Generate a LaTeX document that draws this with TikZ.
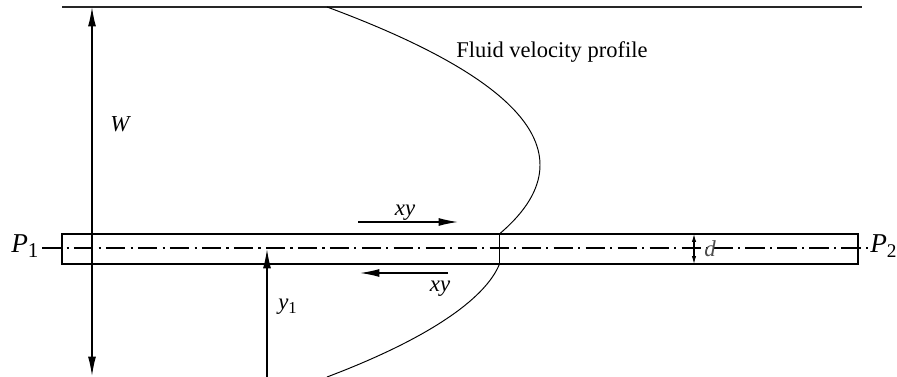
\documentclass[tikz,border=0pt]{standalone}
\usepackage{fontspec}
\setmainfont{Liberation Serif}
\usetikzlibrary{arrows.meta}
\begin{document}
\begin{tikzpicture}[x=0.02cm,y=-0.02cm,
  wall/.style={line width=1.1pt,draw=black!85},
  rodline/.style={line width=0.8pt},
  profile/.style={line width=0.55pt},
  dim/.style={line width=0.7pt},
  tip/.tip={Latex[length=11pt,width=4.5pt]},
  arrowtip/.style={-tip},
  smalltip/.style={{Latex[length=4.5pt,width=2.5pt]}-{Latex[length=4.5pt,width=2.5pt]}},
  centerline/.style={line width=0.6pt,dash pattern=on 11pt off 3pt on 1.2pt off 3pt},
  lbl/.style={inner sep=0pt,font=\fontsize{13}{15}\selectfont\itshape},
  biglbl/.style={inner sep=0pt,font=\fontsize{15.5}{18}\selectfont\itshape},
  txt/.style={inner sep=0pt,font=\fontsize{12.8}{15}\selectfont}]
\useasboundingbox (0,0) rectangle (897,377);
% wall
\coordinate (wallL) at (62,7);
\coordinate (wallR) at (862,7);
\draw[wall] (wallL) -- (wallR);
% rod
\coordinate (rodNW) at (62,234);
\coordinate (rodSE) at (858,264);
\draw[rodline] (rodNW) rectangle (rodSE);
% centerline
\coordinate (clL) at (42,248);
\coordinate (clR) at (868,248);
\draw[centerline] (clL) -- (clR);
% velocity profile
\coordinate (profTop) at (327,7);
\coordinate (profA) at (499.5,234);
\coordinate (profB) at (499.5,264);
\coordinate (profBot) at (327,377);
\draw[profile] plot[domain=-1.58:0.69,samples=80,smooth] ({540-85.3*(\x)^2},{165+100*\x});
\draw[profile] (profA) -- (profB);
\draw[profile] (profB) .. controls (485,300) and (425,340) .. (profBot);
% W dimension
\coordinate (wTop) at (92,7);
\coordinate (wBot) at (92,376);
\draw[dim,tip-tip] (wTop) -- (wBot);
\node[lbl,anchor=base west] (W) at (110,132) {W};
% y1 dimension
\coordinate (y1Bot) at (267,377);
\coordinate (y1Top) at (267,249);
\draw[dim,arrowtip] (y1Bot) -- (y1Top);
\node[lbl,anchor=base west] (y1) at (278,310) {y\raisebox{-0.35ex}{\upshape\fontsize{9.5}{10}\selectfont 1}};
% xy arrows
\coordinate (xyTa) at (358,222);
\coordinate (xyTb) at (458,222);
\draw[dim,arrowtip] (xyTa) -- (xyTb);
\node[lbl,anchor=base] (xyT) at (405,216) {xy};
\coordinate (xyBa) at (448,273);
\coordinate (xyBb) at (360,273);
\draw[dim,arrowtip] (xyBa) -- (xyBb);
\node[lbl,anchor=base] (xyB) at (440,292) {xy};
% d dimension
\coordinate (dTop) at (694,234);
\coordinate (dBot) at (694,264);
\draw[line width=0.6pt,smalltip] (dTop) -- (dBot);
\node[lbl,anchor=base west,text=black!70] (d) at (704,257) {d};
% P labels
\node[biglbl,anchor=base west] (P1) at (11,253) {P\raisebox{-0.4ex}{\upshape\fontsize{12}{14}\selectfont 1}};
\node[biglbl,anchor=base west] (P2) at (870,253) {P\raisebox{-0.4ex}{\upshape\fontsize{11}{13}\selectfont 2}};
% title
\node[txt,anchor=base west] (title) at (456,58) {Fluid velocity profile};
\end{tikzpicture}
\end{document}
